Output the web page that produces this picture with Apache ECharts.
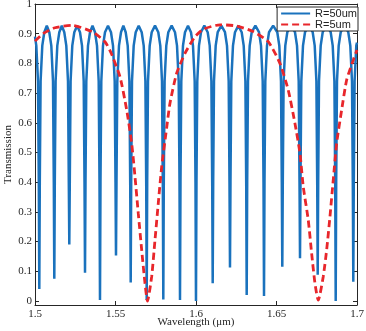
<!DOCTYPE html>
<html>
<head>
<meta charset="utf-8">
<script src="https://cdn.jsdelivr.net/npm/echarts@6/dist/echarts.min.js"></script>
<style>
  html, body { margin: 0; padding: 0; background: #fff; }
  #main { width: 366px; height: 331px; }
</style>
</head>
<body>
<div id="main"></div>
<script>
// ring radius 50um: wavelength (um) / transmission
const r50Wl = [
  1.50000, 1.50081, 1.50186, 1.50236, 1.50267,
  1.50298, 1.50348, 1.50453, 1.50578, 1.50733, 1.50888, 1.51013, 1.51118, 1.51168, 1.51199,
  1.51230, 1.51280, 1.51385, 1.51510, 1.51665, 1.51819, 1.51944, 1.52049, 1.52099, 1.52130,
  1.52161, 1.52211, 1.52316, 1.52441, 1.52618, 1.52795, 1.52920, 1.53025, 1.53075, 1.53106,
  1.53137, 1.53187, 1.53292, 1.53417, 1.53572, 1.53726, 1.53851, 1.53956, 1.54006, 1.54037,
  1.54068, 1.54118, 1.54223, 1.54348, 1.54534, 1.54720, 1.54845, 1.54950, 1.55000, 1.55031,
  1.55062, 1.55112, 1.55217, 1.55342, 1.55488, 1.55633, 1.55758, 1.55863, 1.55913, 1.55944,
  1.55975, 1.56025, 1.56130, 1.56255, 1.56441, 1.56627, 1.56752, 1.56857, 1.56907, 1.56938,
  1.56969, 1.57019, 1.57124, 1.57249, 1.57454, 1.57658, 1.57783, 1.57888, 1.57938, 1.57969,
  1.58000, 1.58050, 1.58155, 1.58280, 1.58488, 1.58695, 1.58820, 1.58925, 1.58975, 1.59006,
  1.59037, 1.59087, 1.59192, 1.59317, 1.59503, 1.59688, 1.59813, 1.59918, 1.59968, 1.59999,
  1.60030, 1.60080, 1.60185, 1.60310, 1.60518, 1.60726, 1.60851, 1.60956, 1.61006, 1.61037,
  1.61068, 1.61118, 1.61223, 1.61348, 1.61574, 1.61800, 1.61925, 1.62030, 1.62080, 1.62111,
  1.62142, 1.62192, 1.62297, 1.62422, 1.62630, 1.62838, 1.62963, 1.63068, 1.63118, 1.63149,
  1.63180, 1.63230, 1.63335, 1.63460, 1.63687, 1.63913, 1.64038, 1.64143, 1.64193, 1.64224,
  1.64255, 1.64305, 1.64410, 1.64535, 1.64792, 1.65049, 1.65174, 1.65279, 1.65329, 1.65360,
  1.65391, 1.65441, 1.65546, 1.65671, 1.65910, 1.66149, 1.66274, 1.66379, 1.66429, 1.66460,
  1.66491, 1.66541, 1.66646, 1.66771, 1.67010, 1.67248, 1.67373, 1.67478, 1.67528, 1.67559,
  1.67590, 1.67640, 1.67745, 1.67870, 1.68118, 1.68366, 1.68491, 1.68596, 1.68646, 1.68677,
  1.68708, 1.68758, 1.68863, 1.68988, 1.69224, 1.69459, 1.69584, 1.69689, 1.69739, 1.69770,
  1.69801, 1.69851, 1.69956, 1.70000
];
const r50T = [
  0.890, 0.860, 0.740, 0.400, 0.040,
  0.400, 0.740, 0.860, 0.905, 0.927, 0.905, 0.860, 0.740, 0.400, 0.075,
  0.400, 0.740, 0.860, 0.905, 0.927, 0.905, 0.860, 0.740, 0.400, 0.190,
  0.400, 0.740, 0.860, 0.905, 0.927, 0.905, 0.860, 0.740, 0.400, 0.095,
  0.400, 0.740, 0.860, 0.905, 0.927, 0.905, 0.860, 0.740, 0.400, 0.003,
  0.400, 0.740, 0.860, 0.905, 0.927, 0.905, 0.860, 0.740, 0.400, 0.153,
  0.400, 0.740, 0.860, 0.905, 0.927, 0.905, 0.860, 0.740, 0.400, 0.062,
  0.400, 0.740, 0.860, 0.905, 0.927, 0.905, 0.860, 0.740, 0.400, 0.003,
  0.400, 0.740, 0.860, 0.905, 0.927, 0.905, 0.860, 0.740, 0.400, 0.005,
  0.400, 0.740, 0.860, 0.905, 0.927, 0.905, 0.860, 0.740, 0.400, 0.003,
  0.400, 0.740, 0.860, 0.905, 0.927, 0.905, 0.860, 0.740, 0.400, 0.000,
  0.400, 0.740, 0.860, 0.905, 0.927, 0.905, 0.860, 0.740, 0.400, 0.060,
  0.400, 0.740, 0.860, 0.905, 0.927, 0.905, 0.860, 0.740, 0.400, 0.113,
  0.400, 0.740, 0.860, 0.905, 0.927, 0.905, 0.860, 0.740, 0.400, 0.020,
  0.400, 0.740, 0.860, 0.905, 0.927, 0.905, 0.860, 0.740, 0.400, 0.017,
  0.400, 0.740, 0.860, 0.905, 0.927, 0.905, 0.860, 0.740, 0.400, 0.115,
  0.400, 0.740, 0.860, 0.905, 0.927, 0.905, 0.860, 0.740, 0.400, 0.144,
  0.400, 0.740, 0.860, 0.905, 0.927, 0.905, 0.860, 0.740, 0.400, 0.088,
  0.400, 0.740, 0.860, 0.905, 0.927, 0.905, 0.860, 0.740, 0.400, 0.000,
  0.400, 0.740, 0.860, 0.905, 0.927, 0.905, 0.860, 0.740, 0.400, 0.065,
  0.400, 0.740, 0.860, 0.870
];

// ring radius 5um
const r5Wl = [
  1.50000, 1.50497, 1.51242, 1.52298, 1.53540, 1.54347, 1.54720, 1.55279,
  1.55695, 1.56005, 1.56210, 1.56415, 1.56626, 1.56831, 1.56986, 1.57247,
  1.57452, 1.57657, 1.57868, 1.58135, 1.58384, 1.58800, 1.59315, 1.59731,
  1.59936, 1.60452, 1.61489, 1.62526, 1.63556, 1.64488, 1.65215, 1.65730,
  1.66147, 1.66457, 1.66662, 1.66972, 1.67183, 1.67388, 1.67593, 1.67903,
  1.68115, 1.68320, 1.68524, 1.68736, 1.69046, 1.69357, 1.69767, 1.70000
];
const r5T = [
  0.875, 0.900, 0.920, 0.928, 0.907, 0.873, 0.836, 0.755,
  0.643, 0.531, 0.419, 0.295, 0.172, 0.060, 0.000, 0.082,
  0.205, 0.329, 0.452, 0.565, 0.666, 0.767, 0.834, 0.873,
  0.890, 0.915, 0.930, 0.926, 0.907, 0.873, 0.800, 0.710,
  0.598, 0.497, 0.385, 0.273, 0.160, 0.060, 0.003, 0.082,
  0.172, 0.284, 0.407, 0.531, 0.643, 0.744, 0.811, 0.845
];

const seriesNames = ['R=50um', 'R=5um'];

const axisColor = '#262626';
const serif = 'Liberation Serif';

let myChart = echarts.init(document.getElementById('main'), null, { renderer: 'canvas' });

const tickStyle = { inside: true, length: 4, lineStyle: { color: axisColor, width: 1 } };
const lineStyle = { show: true, onZero: false, lineStyle: { color: axisColor, width: 1 } };

let option = {
  animation: false,
  backgroundColor: '#fff',
  grid: [
    { left: 35, right: 9, top: 4, bottom: 26, outerBoundsMode: 'none', containLabel: false },
    // second grid only carries the 0..1 y ticks (plot bottom sits a little below 0)
    { left: 35, right: 9, top: 4, height: 297, outerBoundsMode: 'none', containLabel: false }
  ],
  legend: {
    orient: 'vertical',
    right: 8,
    top: 7,
    backgroundColor: '#fff',
    borderColor: axisColor,
    borderWidth: 1,
    padding: [1, 1, 1, 3],
    itemGap: 0,
    itemWidth: 29,
    itemHeight: 12,
    itemStyle: { opacity: 0 },
    textStyle: { fontFamily: 'Liberation Sans', fontSize: 11, color: '#222' },
    data: seriesNames
  },
  xAxis: [{
    gridIndex: 0,
    type: 'value',
    min: 1.5,
    max: 1.7,
    interval: 0.05,
    position: 'bottom',
    axisLine: lineStyle,
    axisTick: tickStyle,
    axisLabel: { fontFamily: serif, fontSize: 11, color: axisColor, margin: 4 },
    splitLine: { show: false },
    name: 'Wavelength (μm)',
    nameLocation: 'middle',
    nameGap: 12,
    nameMoveOverlap: false,
    nameTextStyle: { fontFamily: serif, fontSize: 11, color: axisColor }
  }, {
    gridIndex: 0,
    type: 'value',
    min: 1.5,
    max: 1.7,
    interval: 0.05,
    position: 'top',
    axisLine: lineStyle,
    axisTick: tickStyle,
    axisLabel: { show: false },
    splitLine: { show: false }
  }, {
    gridIndex: 1,
    type: 'value',
    min: 1.5,
    max: 1.7,
    show: false
  }],
  yAxis: [{
    gridIndex: 0,
    type: 'value',
    min: -0.0135,
    max: 1,
    position: 'left',
    axisLine: lineStyle,
    axisTick: { show: false },
    axisLabel: { show: false },
    splitLine: { show: false },
    name: 'Transmission',
    nameLocation: 'middle',
    nameGap: 21,
    nameMoveOverlap: false,
    nameTextStyle: { fontFamily: serif, fontSize: 11, color: axisColor }
  }, {
    gridIndex: 0,
    type: 'value',
    min: -0.0135,
    max: 1,
    position: 'right',
    axisLine: lineStyle,
    axisTick: { show: false },
    axisLabel: { show: false },
    splitLine: { show: false }
  }, {
    gridIndex: 1,
    type: 'value',
    min: 0,
    max: 1,
    interval: 0.1,
    position: 'left',
    axisLine: { show: false },
    axisTick: tickStyle,
    axisLabel: { fontFamily: serif, fontSize: 11, color: axisColor, margin: 3 },
    splitLine: { show: false }
  }, {
    gridIndex: 1,
    type: 'value',
    min: 0,
    max: 1,
    interval: 0.1,
    position: 'right',
    axisLine: { show: false },
    axisTick: tickStyle,
    axisLabel: { show: false },
    splitLine: { show: false }
  }],
  series: [{
    name: seriesNames[0],
    type: 'line',
    xAxisIndex: 0,
    yAxisIndex: 0,
    data: r50Wl.map((w, i) => [w, r50T[i]]),
    symbol: 'none',
    clip: true,
    color: '#1a72bd',
    lineStyle: { color: '#1a72bd', width: 2.5 },
    z: 2
  }, {
    name: seriesNames[1],
    type: 'line',
    xAxisIndex: 0,
    yAxisIndex: 0,
    data: r5Wl.map((w, i) => [w, r5T[i]]),
    symbol: 'none',
    smooth: 0.2,
    clip: true,
    color: '#e8262b',
    lineStyle: { color: '#e8262b', width: 2.8, type: [7, 4] },
    z: 3
  }]
};
myChart.setOption(option);
</script>
</body>
</html>
